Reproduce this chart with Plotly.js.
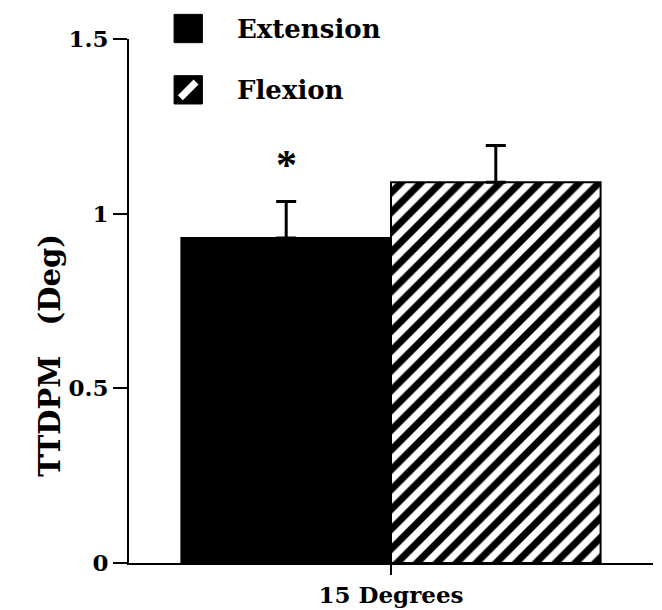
<!DOCTYPE html>
<html>
<head>
<meta charset="utf-8">
<script src="https://cdn.plot.ly/plotly-3.0.1.min.js"></script>
<style>
  html, body { margin: 0; padding: 0; background: #fff; }
  #chart { width: 662px; height: 610px; }
</style>
</head>
<body>
<div id="chart"></div>
<script>
// ---- data ----
const categories = ['15 Degrees'];
const seriesNames = ['Extension', 'Flexion'];
const extensionValues = [0.93];
const extensionErrors = [0.105];
const flexionValues = [1.09];
const flexionErrors = [0.105];
const significance = ['*'];   // marker above Extension bar
const yTickVals = [0, 0.5, 1, 1.5];
const yTickText = ['0', '0.5', '1', '1.5'];
const yTitle = 'TTDPM   (Deg)';

const FONT = 'DejaVu Serif, Liberation Serif, serif';

const traceExt = {
  type: 'bar',
  name: seriesNames[0],
  x: categories,
  y: extensionValues,
  marker: { color: '#000', line: { color: '#000', width: 2 } },
  error_y: { type: 'data', symmetric: false, array: extensionErrors,
             arrayminus: extensionErrors.map(() => 0),
             color: '#000', thickness: 3, width: 10 },
  showlegend: false,
  hoverinfo: 'skip'
};

const traceFlex = {
  type: 'bar',
  name: seriesNames[1],
  x: categories,
  y: flexionValues,
  marker: {
    color: '#fff',
    line: { color: '#000', width: 2 },
    pattern: { shape: '/', fgcolor: '#000', bgcolor: '#fff', size: 14, solidity: 0.5 }
  },
  error_y: { type: 'data', symmetric: false, array: flexionErrors,
             arrayminus: flexionErrors.map(() => 0),
             color: '#000', thickness: 3, width: 10 },
  showlegend: false,
  hoverinfo: 'skip'
};

// group layout: one category at index 0, bargap 0.2 -> two bars of width 0.4
const bargap = 0.2;
const barW = (1 - bargap) / 2;
const annotations = [];
significance.forEach((s, i) => {
  if (!s) return;
  annotations.push({
    xref: 'x', yref: 'y',
    x: i - barW / 2,
    y: extensionValues[i] + extensionErrors[i],
    text: s, showarrow: false,
    xanchor: 'center', yanchor: 'bottom', yshift: 11,
    font: { family: 'Liberation Serif, serif', size: 42, color: '#000', weight: 700 }
  });
});

// y-axis title as a rotated annotation (positioned like the reference)
annotations.push({
  xref: 'paper', yref: 'paper', x: -0.151, y: 0.397,
  text: yTitle, textangle: -90, showarrow: false,
  xanchor: 'center', yanchor: 'middle',
  font: { family: FONT, size: 29, color: '#000', weight: 700 }
});

// manual legend (large swatches)
const legX0 = 0.086, legSize = 0.054, legTextX = 0.202;
const legY = [1.020, 0.903];
const shapes = [
  { type: 'rect', xref: 'paper', yref: 'paper',
    x0: legX0, x1: legX0 + legSize, y0: legY[0] - legSize / 2, y1: legY[0] + legSize / 2,
    fillcolor: '#000', line: { color: '#000', width: 1 } },
  { type: 'rect', xref: 'paper', yref: 'paper',
    x0: legX0, x1: legX0 + legSize, y0: legY[1] - legSize / 2, y1: legY[1] + legSize / 2,
    fillcolor: '#000', line: { color: '#000', width: 1 } },
  { type: 'line', xref: 'paper', yref: 'paper',
    x0: legX0 + 0.012, x1: legX0 + legSize - 0.012,
    y0: legY[1] - legSize / 2 + 0.012, y1: legY[1] + legSize / 2 - 0.012,
    line: { color: '#fff', width: 7 } }
];
seriesNames.forEach((n, i) => {
  annotations.push({
    xref: 'paper', yref: 'paper', x: legTextX, y: legY[i],
    text: n, showarrow: false, xanchor: 'left', yanchor: 'middle',
    font: { family: FONT, size: 26, color: '#000', weight: 700 }
  });
});

const layout = {
  width: 662, height: 610,
  margin: { l: 129, r: 9, t: 39, b: 47 },
  paper_bgcolor: '#fff', plot_bgcolor: '#fff',
  barmode: 'group', bargap: bargap, bargroupgap: 0,
  showlegend: false,
  font: { family: FONT, color: '#000', size: 23, weight: 700 },
  xaxis: {
    type: 'category', range: [-0.5, 0.5],
    showline: true, linecolor: '#000', linewidth: 2,
    ticks: 'outside', ticklen: 10, tickwidth: 2, tickcolor: '#000',
    showgrid: false, zeroline: false,
    tickfont: { family: FONT, size: 23, color: '#000', weight: 700 }
  },
  yaxis: {
    range: [0, 1.5],
    tickvals: yTickVals, ticktext: yTickText,
    showline: true, linecolor: '#000', linewidth: 2,
    ticks: 'outside', ticklen: 14, tickwidth: 2, tickcolor: '#000',
    showgrid: false, zeroline: false,
    tickfont: { family: FONT, size: 23, color: '#000', weight: 700 }
  },
  shapes: shapes,
  annotations: annotations
};

Plotly.newPlot('chart', [traceExt, traceFlex], layout, { staticPlot: true, displayModeBar: false });
</script>
</body>
</html>
